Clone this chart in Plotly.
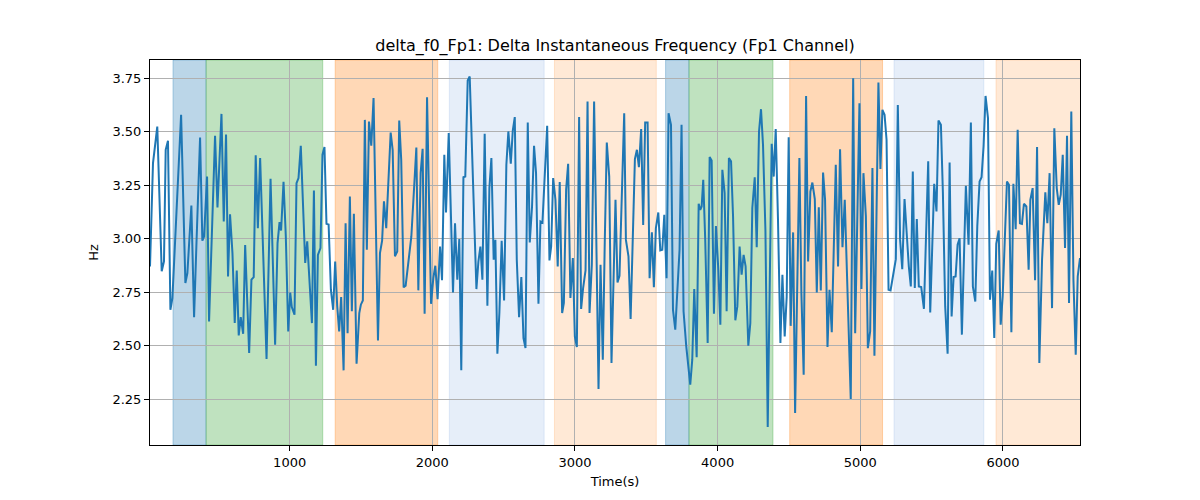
import plotly.graph_objects as go

time_s = [21, 42, 72, 103, 119, 131, 147, 164, 178, 239, 269, 283, 311, 330, 346, 372, 388, 400, 421, 435,
          477, 494, 522, 538, 554, 568, 582, 599, 615, 629, 643, 657, 674, 688, 716, 732, 748, 762, 777, 793,
          838, 866, 898, 915, 929, 940, 957, 973, 990, 1004, 1015, 1034, 1048, 1062, 1078, 1109, 1123, 1156, 1170, 1184,
          1198, 1216, 1230, 1244, 1258, 1273, 1289, 1305, 1319, 1333, 1347, 1361, 1378, 1392, 1406, 1422, 1436, 1450, 1469, 1488,
          1499, 1513, 1527, 1541, 1556, 1572, 1588, 1605, 1619, 1633, 1648, 1661, 1677, 1708, 1722, 1738, 1754, 1768, 1782, 1799,
          1813, 1853, 1888, 1902, 1918, 1932, 1946, 1963, 1991, 2007, 2021, 2037, 2054, 2068, 2084, 2096, 2115, 2145, 2159, 2175,
          2189, 2203, 2218, 2231, 2248, 2262, 2276, 2292, 2309, 2323, 2337, 2351, 2367, 2386, 2400, 2414, 2430, 2442, 2456, 2470,
          2486, 2503, 2519, 2533, 2550, 2564, 2578, 2592, 2608, 2624, 2639, 2653, 2669, 2683, 2699, 2713, 2727, 2744, 2758, 2772,
          2805, 2821, 2833, 2847, 2863, 2879, 2893, 2910, 2922, 2938, 2952, 2968, 2985, 2999, 3013, 3029, 3043, 3057, 3074, 3088,
          3102, 3118, 3134, 3148, 3165, 3179, 3195, 3209, 3223, 3240, 3256, 3284, 3298, 3312, 3345, 3357, 3375, 3390, 3406, 3420,
          3434, 3448, 3464, 3478, 3492, 3509, 3523, 3539, 3553, 3567, 3584, 3598, 3612, 3626, 3642, 3656, 3673, 3687, 3703, 3717,
          3733, 3747, 3761, 3780, 3808, 3822, 3836, 3853, 3867, 3878, 3888, 3899, 3913, 3930, 3944, 3958, 3974, 3988, 4005, 4019,
          4033, 4049, 4063, 4079, 4094, 4108, 4124, 4138, 4154, 4168, 4182, 4196, 4215, 4229, 4243, 4260, 4274, 4290, 4304, 4318,
          4335, 4351, 4365, 4379, 4393, 4407, 4423, 4440, 4454, 4470, 4484, 4498, 4512, 4529, 4543, 4557, 4573, 4587, 4603, 4620,
          4634, 4650, 4664, 4681, 4695, 4709, 4723, 4739, 4753, 4770, 4784, 4800, 4814, 4828, 4844, 4858, 4875, 4891, 4933, 4950,
          4964, 4994, 5008, 5022, 5039, 5053, 5069, 5085, 5099, 5127, 5141, 5155, 5170, 5184, 5198, 5212, 5249, 5263, 5279, 5294,
          5310, 5324, 5340, 5354, 5368, 5382, 5396, 5410, 5427, 5446, 5476, 5490, 5504, 5518, 5534, 5548, 5565, 5579, 5595, 5612,
          5626, 5640, 5654, 5668, 5682, 5696, 5712, 5740, 5759, 5775, 5789, 5806, 5820, 5836, 5850, 5864, 5878, 5895, 5909, 5925,
          5939, 5953, 5970, 5984, 5998, 6012, 6028, 6042, 6059, 6073, 6089, 6103, 6119, 6133, 6147, 6164, 6180, 6192, 6208, 6225,
          6239, 6255, 6274, 6297, 6311, 6327, 6344, 6360, 6377, 6391, 6405, 6419, 6435, 6449, 6463, 6479, 6494, 6510, 6524, 6540]

freq_hz = [2.87, 3.353, 3.524, 2.847, 2.893, 3.415, 3.457, 2.667, 2.722, 3.579, 2.792, 2.839, 3.155, 2.632, 2.963, 3.473, 2.990, 3.010, 3.290, 2.613,
           3.481, 3.146, 3.583, 3.080, 3.487, 2.823, 3.114, 2.932, 2.605, 2.851, 2.547, 2.633, 2.555, 2.970, 2.465, 2.808, 2.820, 3.389, 3.049, 3.377,
           2.437, 3.280, 2.504, 2.979, 3.077, 3.038, 3.266, 3.010, 2.566, 2.748, 2.680, 2.644, 3.259, 3.283, 3.434, 2.886, 2.987, 2.605, 3.225, 2.406,
           2.924, 2.956, 3.392, 3.428, 3.069, 3.066, 2.761, 2.667, 2.893, 2.686, 2.566, 2.727, 2.384, 3.072, 2.558, 3.197, 2.660, 3.116, 2.415, 2.652,
           2.691, 2.711, 3.555, 2.948, 3.547, 3.434, 3.657, 3.104, 2.524, 2.932, 2.990, 3.174, 3.049, 3.496, 3.415, 2.917, 2.940, 3.552, 3.368, 2.772,
           2.780, 3.010, 3.426, 2.758, 3.306, 3.420, 2.649, 3.661, 2.695, 2.815, 2.873, 2.717, 2.963, 2.805, 3.392, 3.122, 3.493, 2.748, 3.072, 2.808,
           2.998, 2.384, 3.287, 3.290, 3.739, 3.758, 3.454, 3.057, 2.764, 2.893, 2.963, 2.808, 3.490, 2.686, 3.236, 3.377, 2.901, 2.994, 2.462, 2.652,
           2.990, 2.711, 3.345, 3.501, 3.350, 3.505, 3.568, 2.901, 2.633, 2.820, 2.535, 2.488, 3.543, 2.982, 3.150, 3.434, 3.306, 2.695, 3.080, 3.075,
           3.527, 2.898, 2.963, 3.283, 3.181, 2.870, 3.264, 2.652, 2.699, 3.231, 3.350, 2.722, 2.909, 2.543, 2.493, 3.568, 2.671, 2.769, 2.851, 3.641,
           2.652, 2.878, 3.641, 3.064, 2.297, 2.878, 2.434, 2.994, 3.449, 3.290, 2.418, 3.181, 2.795, 2.826, 3.586, 2.994, 2.917, 2.624, 3.026, 3.372,
           3.415, 3.334, 3.512, 3.064, 3.543, 3.543, 2.815, 3.029, 2.773, 3.049, 3.122, 2.945, 2.948, 3.111, 2.815, 3.586, 3.532, 2.667, 2.574, 2.745,
           2.948, 3.532, 2.660, 2.496, 2.317, 2.434, 2.764, 2.445, 3.163, 3.135, 3.150, 3.275, 2.994, 2.512, 3.381, 3.365, 2.649, 3.059, 2.851, 2.597,
           3.322, 3.213, 2.660, 3.377, 3.361, 3.104, 2.618, 2.683, 2.963, 2.831, 2.924, 2.870, 2.499, 2.605, 3.143, 3.287, 2.960, 3.501, 3.605, 3.438,
           3.038, 2.119, 2.870, 3.443, 3.290, 3.512, 3.088, 2.512, 2.831, 2.543, 2.727, 3.474, 2.592, 3.029, 2.185, 2.683, 3.377, 2.745, 2.364, 3.667,
           2.893, 3.220, 3.262, 3.185, 2.748, 3.147, 2.758, 3.309, 3.181, 2.493, 2.761, 2.562, 3.026, 3.345, 2.870, 3.418, 2.960, 3.181, 2.250, 3.750,
           2.558, 3.633, 2.764, 3.306, 3.104, 2.488, 2.566, 3.330, 2.452, 3.730, 3.325, 3.602, 3.579, 3.462, 2.761, 2.758, 2.904, 3.625, 2.994, 2.857,
           3.185, 3.018, 2.870, 2.776, 3.314, 2.769, 3.091, 2.776, 2.773, 2.671, 3.361, 2.655, 3.010, 3.256, 3.127, 3.552, 3.532, 3.213, 2.683, 2.462,
           3.356, 2.636, 2.820, 2.823, 2.971, 3.002, 2.551, 3.247, 2.971, 3.543, 2.776, 2.706, 3.057, 3.267, 3.287, 3.431, 3.667, 3.563, 2.714, 2.851,
           2.535, 2.976, 3.038, 2.597, 2.730, 2.963, 3.267, 3.252, 2.562, 3.256, 3.044, 3.509, 3.072, 3.069, 3.163, 3.150, 2.854, 3.181, 3.236, 2.805,
           3.428, 2.418, 2.901, 3.216, 3.072, 3.306, 2.675, 3.516, 3.236, 3.158, 3.205, 3.392, 2.956, 3.481, 2.699, 3.594, 2.805, 2.457, 2.823, 2.909]

span_start = [182, 414, 1319, 2119, 2856, 3635, 3799, 4505, 5236, 5951]
span_end = [414, 1232, 2038, 2784, 3570, 3799, 4388, 5156, 5866, 6560]
span_color = ["rgba(31,119,180,0.3)", "rgba(44,160,44,0.3)", "rgba(255,127,14,0.3)",
              "rgba(31,100,200,0.11)", "rgba(255,127,14,0.17)",
              "rgba(31,119,180,0.3)", "rgba(44,160,44,0.3)", "rgba(255,127,14,0.3)",
              "rgba(31,100,200,0.11)", "rgba(255,127,14,0.17)"]

x_ticks = [1000, 2000, 3000, 4000, 5000, 6000]
y_ticks = [2.25, 2.50, 2.75, 3.00, 3.25, 3.50, 3.75]

fig = go.Figure()
fig.add_trace(go.Scatter(x=time_s, y=freq_hz, mode="lines",
                         line=dict(color="#1f77b4", width=2), showlegend=False))

for s, e, c in zip(span_start, span_end, span_color):
    fig.add_shape(type="rect", xref="x", yref="paper", x0=s, x1=e, y0=0, y1=1,
                  fillcolor=c, line=dict(width=1, color=c), layer="below")

font = "DejaVu Sans, sans-serif"
fig.update_layout(
    width=1192, height=492,
    margin=dict(l=142, r=120, t=52, b=55),
    paper_bgcolor="white", plot_bgcolor="white",
    font=dict(family=font, size=13, color="black"),
    title=dict(text="delta_f0_Fp1: Delta Instantaneous Frequency (Fp1 Channel)",
               x=0.5, xref="paper", xanchor="center", yref="container", y=0.923, yanchor="middle",
               font=dict(size=16, family=font, color="black")),
    xaxis=dict(range=[time_s[0], time_s[-1]], tickvals=x_ticks, ticktext=[str(v) for v in x_ticks],
               showgrid=True, gridcolor="#b0b0b0", gridwidth=0.8,
               showline=True, linecolor="black", linewidth=1, mirror=True,
               ticks="outside", ticklen=5, tickcolor="black", zeroline=False,
               title=dict(text="Time(s)", font=dict(size=13), standoff=8)),
    yaxis=dict(range=[2.035, 3.835], tickvals=y_ticks, ticktext=["%.2f" % v for v in y_ticks],
               showgrid=True, gridcolor="#b0b0b0", gridwidth=0.8,
               showline=True, linecolor="black", linewidth=1, mirror=True,
               ticks="outside", ticklen=5, tickcolor="black", zeroline=False,
               title=dict(text="Hz", font=dict(size=13), standoff=10)),
)

fig.write_html("out.html")
